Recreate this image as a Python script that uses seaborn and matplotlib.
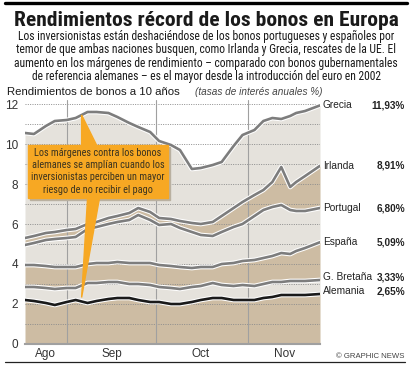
import os
import numpy as np
import pandas as pd
import matplotlib
matplotlib.use("Agg")
import matplotlib.pyplot as plt
import matplotlib.dates as mdates
import matplotlib.patheffects as pe
from matplotlib.patches import Polygon, Rectangle
from matplotlib import font_manager
from matplotlib.font_manager import FontProperties
import seaborn as sns

# data (10-year bond yields, %)
fechas = pd.to_datetime([
    "2010-08-18", "2010-08-21", "2010-08-25", "2010-08-28", "2010-09-01",
    "2010-09-04", "2010-09-08", "2010-09-11", "2010-09-15", "2010-09-18",
    "2010-09-22", "2010-09-25", "2010-09-29", "2010-10-02", "2010-10-06",
    "2010-10-09", "2010-10-13", "2010-10-16", "2010-10-20", "2010-10-23",
    "2010-10-27", "2010-10-30", "2010-11-03", "2010-11-06", "2010-11-09",
    "2010-11-12", "2010-11-15", "2010-11-17", "2010-11-20", "2010-11-25"])

grecia = [10.55, 10.5, 10.9, 11.15, 11.2, 11.3, 11.6, 11.6, 11.55, 11.35,
          11.05, 10.85, 10.6, 10.15, 9.95, 9.7, 8.75, 8.8, 8.95, 9.1,
          9.9, 10.45, 10.7, 11.15, 11.3, 11.25, 11.4, 11.55, 11.65, 11.93]
irlanda = [5.3, 5.4, 5.55, 5.6, 5.7, 5.75, 6.0, 6.1, 6.3, 6.4,
           6.55, 6.8, 6.6, 6.3, 6.25, 6.15, 6.05, 6.0, 6.1, 6.4,
           6.8, 7.1, 7.45, 7.7, 8.1, 8.85, 7.85, 8.1, 8.4, 8.91]
portugal = [4.95, 5.05, 5.2, 5.25, 5.3, 5.35, 5.75, 5.85, 6.0, 6.1,
            6.2, 6.45, 6.2, 5.95, 6.0, 5.8, 5.6, 5.45, 5.4, 5.6,
            5.85, 6.0, 6.4, 6.7, 6.85, 6.95, 6.7, 6.65, 6.65, 6.8]
espana = [3.95, 3.95, 3.9, 3.85, 3.85, 3.85, 4.0, 4.05, 4.05, 4.1,
          4.05, 4.05, 4.05, 3.95, 3.9, 3.85, 3.8, 3.85, 3.85, 4.0,
          4.05, 4.15, 4.2, 4.3, 4.4, 4.55, 4.5, 4.65, 4.8, 5.09]
gbretana = [2.85, 2.85, 2.8, 2.75, 2.8, 2.8, 3.05, 3.05, 3.1, 3.1,
            3.0, 3.0, 2.95, 2.85, 2.8, 2.75, 2.85, 2.9, 3.05, 2.95,
            2.9, 2.95, 2.9, 3.0, 3.1, 3.1, 3.15, 3.15, 3.15, 3.2]
alemania = [2.2, 2.15, 2.05, 1.95, 2.1, 2.2, 2.05, 2.15, 2.25, 2.3,
            2.3, 2.2, 2.1, 2.1, 2.0, 2.0, 2.1, 2.2, 2.3, 2.3,
            2.2, 2.2, 2.2, 2.3, 2.35, 2.45, 2.45, 2.45, 2.45, 2.5]

paises = ["Grecia", "Irlanda", "Portugal", "España", "G. Bretaña", "Alemania"]
valores_finales = ["11,93%", "8,91%", "6,80%", "5,09%", "3,33%", "2,65%"]
meses = ["Ago", "Sep", "Oct", "Nov"]
inicio_meses = pd.to_datetime(["2010-09-01", "2010-10-01", "2010-11-01"])
centro_meses = pd.to_datetime(["2010-08-25", "2010-09-16", "2010-10-16", "2010-11-13"])

titulo = "Rendimientos récord de los bonos en Europa"
subtitulo = [
    "Los inversionistas están deshaciéndose de los bonos portugueses y españoles por",
    "temor de que ambas naciones busquen, como Irlanda y Grecia, rescates de la UE. El",
    "aumento en los márgenes de rendimiento – comparado con bonos gubernamentales",
    "de referencia alemanes – es el mayor desde la introducción del euro en 2002",
]
nota = ("Los márgenes contra los bonos\nalemanes se amplían cuando los\n"
        "inversionistas perciben un mayor\nriesgo de no recibir el pago")

sns.set_style("white")
plt.rcParams["font.family"] = ["Liberation Sans", "DejaVu Sans"]


def buscar_fuente(claves):
    archivos = [f.fname for f in font_manager.fontManager.ttflist]
    for c in claves:
        for a in archivos:
            if c in os.path.basename(a).lower():
                return a
    return None


f_reg = buscar_fuente(["liberationsansnarrow-regular", "robotocondensed-regular",
                       "dejavusanscondensed.ttf"])
f_bold = buscar_fuente(["liberationsansnarrow-bold.", "robotocondensed-bold.",
                        "dejavusanscondensed-bold."])
fp_reg = FontProperties(fname=f_reg) if f_reg else FontProperties(family="Liberation Sans")
fp_bold = FontProperties(fname=f_bold) if f_bold else FontProperties(family="Liberation Sans", weight="bold")

TAN = "#cdbca3"
LIGHT = "#e5e2dc"
GRAY = "#7d7d7d"

fig = plt.figure(figsize=(4.12, 3.68), dpi=100)
ax = fig.add_axes([25 / 412, 24 / 368, 295 / 412, 244 / 368])
renderer = fig.canvas.get_renderer()


def ajustar(txt, ancho_px):
    # scale font size so the text spans the width measured on the reference
    w = txt.get_window_extent(renderer).width
    txt.set_fontsize(txt.get_fontsize() * ancho_px / w)
    return txt.get_fontsize()


# stacked bands between the series
series = [alemania, gbretana, espana, portugal, irlanda, grecia]
lower = np.zeros(len(fechas))
for i, s in enumerate(series):
    ax.fill_between(fechas, lower, s, color=TAN if i % 2 == 0 else LIGHT, lw=0, zorder=1)
    lower = np.array(s)

for v in range(1, 13):
    ax.axhline(v, color="#8c8c8c", lw=0.7, ls=(0, (1, 1.4)), zorder=2)
for m in inicio_meses:
    ax.axvline(m, color="#a0a0a0", lw=0.8, zorder=2)

colores = [GRAY] * 5 + ["#1a1a1a"]
for s, c in zip(series[::-1], colores):
    sns.lineplot(x=fechas, y=s, color=c, lw=1.9, ax=ax, zorder=3)
    ax.lines[-1].set_path_effects([pe.Stroke(linewidth=3.4, foreground="white"), pe.Normal()])

ax.set_xlim(fechas[0], fechas[-1])
ax.set_ylim(0, 12.2)
ax.set_yticks(range(0, 13, 2))
ax.set_yticklabels([str(v) for v in range(0, 13, 2)], fontsize=8.5, color="#333333")
ax.tick_params(axis="y", length=0, pad=5)
ax.set_xticks(inicio_meses)
ax.set_xticklabels([])
ax.tick_params(axis="x", which="major", length=12, width=0.8, color="#a0a0a0", direction="out")
ax.set_xticks(centro_meses, minor=True)
ax.set_xticklabels(meses, minor=True, fontsize=8.5, color="#333333")
ax.tick_params(axis="x", which="minor", length=0, pad=3)
ax.set_xlabel("")
ax.set_ylabel("")
for side in ["top", "left", "right"]:
    ax.spines[side].set_visible(False)
ax.spines["bottom"].set_color("#a0a0a0")
ax.spines["bottom"].set_linewidth(1.5)

# end labels, placed at the printed values
trans = ax.get_yaxis_transform()
for nombre, val in zip(paises, valores_finales):
    yv = float(val.replace(",", ".").rstrip("%"))
    ax.text(1.01, yv, nombre, transform=trans, ha="left", va="center",
            fontsize=7.3, color="#222222", clip_on=False)
    ax.text(1.288, yv, val, transform=trans, ha="right", va="center",
            fontsize=7.2, fontweight="bold", color="#222222", clip_on=False)

# callout
d = mdates.date2num
x0, x1 = d(pd.Timestamp("2010-08-19")), d(pd.Timestamp("2010-10-05"))
y0, y1 = 7.3, 9.95
naranja = "#f7a823"
ax.add_patch(Rectangle((x0 + 0.7, y0 - 0.1), x1 - x0, y1 - y0, color="#b9b0a0", zorder=4))
ax.add_patch(Rectangle((x0, y0), x1 - x0, y1 - y0, color=naranja, zorder=5))
xp = d(pd.Timestamp("2010-09-06"))
yp_up = np.interp(xp, d(fechas), grecia)
yp_dn = np.interp(xp, d(fechas), alemania) + 0.2
ax.add_patch(Polygon([(xp, y1), (d(pd.Timestamp("2010-09-11")), y1), (xp, yp_up)],
                     closed=True, color=naranja, zorder=5))
ax.add_patch(Polygon([(d(pd.Timestamp("2010-09-08")), y0), (d(pd.Timestamp("2010-09-12")), y0),
                      (xp, yp_dn)], closed=True, color=naranja, zorder=5))
tn = ax.text((x0 + x1) / 2, (y0 + y1) / 2 + 0.02, nota, ha="center", va="center",
             fontproperties=fp_reg, color="#3a3320", linespacing=1.3, zorder=6)
tn.set_fontsize(8)
ajustar(tn, 134)

# headings
fig.add_artist(plt.Line2D([5 / 412, 407 / 412], [1 - 3 / 368] * 2, color="black", lw=2.4))
fig.add_artist(plt.Line2D([5 / 412, 405 / 412], [6 / 368] * 2, color="#222222", lw=0.9))
tt = fig.text(0.5, 1 - 26 / 368, titulo, ha="center", va="baseline",
              fontproperties=fp_bold, color="#1a1a1a")
tt.set_fontsize(14.5)
ajustar(tt, 384)
lineas = []
for i, linea in enumerate(subtitulo):
    ts = fig.text(0.5, 1 - (40 + 13.4 * i) / 368, linea, ha="center", va="baseline",
                  fontproperties=fp_reg, color="#1a1a1a")
    ts.set_fontsize(8.3)
    lineas.append(ts)
tam = ajustar(lineas[1], 381)
for ts in lineas:
    ts.set_fontsize(tam)
t1 = fig.text(7 / 412, 1 - 95 / 368, "Rendimientos de bonos a 10 años", ha="left",
              va="baseline", fontsize=8.3, color="#1a1a1a")
ajustar(t1, 173)
t2 = fig.text(195 / 412, 1 - 95 / 368, "(tasas de interés anuales %)", ha="left", va="baseline",
              fontsize=7.5, style="italic", color="#444444")
ajustar(t2, 127)
fig.text(405 / 412, 1 - 358 / 368, "© GRAPHIC NEWS", ha="right", va="baseline",
         fontsize=5.6, color="#444444")

fig.savefig("out.png", dpi=100)
